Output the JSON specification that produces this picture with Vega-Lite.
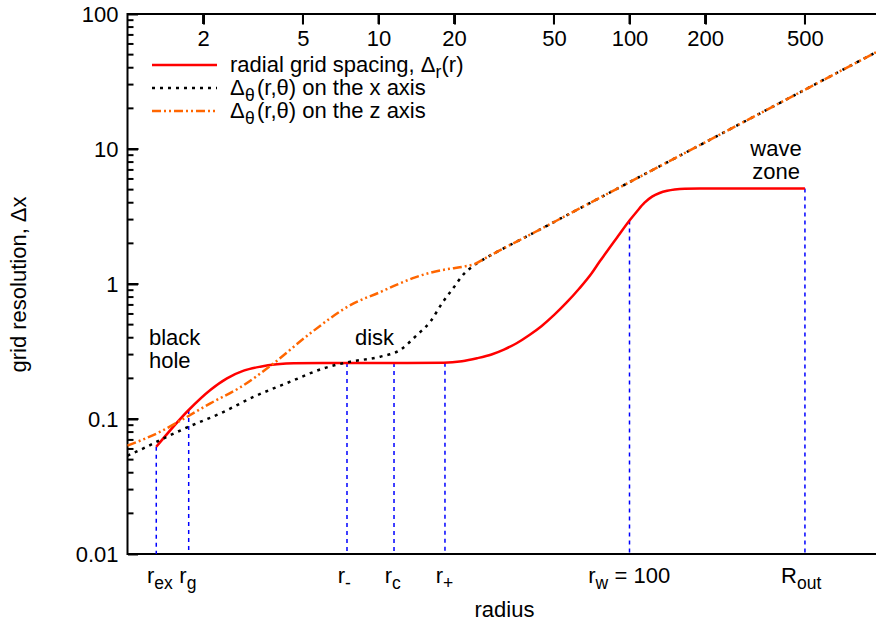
{
  "$schema": "https://vega.github.io/schema/vega-lite/v6.json",
  "width": 753,
  "height": 540,
  "autosize": {"type": "none"},
  "padding": {"left": 127.5, "top": 14, "right": 0, "bottom": 72},
  "background": "white",
  "config": {
    "view": {"stroke": "#000000", "strokeWidth": 2},
    "font": "Liberation Sans",
    "axis": {
      "labelFont": "Liberation Sans", "labelFontSize": 22, "labelColor": "#000000",
      "titleFont": "Liberation Sans", "titleFontSize": 22, "titleFontWeight": "normal", "titleColor": "#000000",
      "domain": false, "grid": false, "tickColor": "#000000", "tickWidth": 2
    }
  },
  "datasets": {
    "lines": [
      {"series": "radial", "part": "curve", "r": 1.302, "v": 0.0623},
      {"series": "radial", "part": "curve", "r": 1.753, "v": 0.1166},
      {"series": "radial", "part": "curve", "r": 2.138, "v": 0.164},
      {"series": "radial", "part": "curve", "r": 2.491, "v": 0.2},
      {"series": "radial", "part": "curve", "r": 2.904, "v": 0.228},
      {"series": "radial", "part": "curve", "r": 3.381, "v": 0.244},
      {"series": "radial", "part": "curve", "r": 3.94, "v": 0.254},
      {"series": "radial", "part": "curve", "r": 4.592, "v": 0.259},
      {"series": "radial", "part": "curve", "r": 6.0, "v": 0.26},
      {"series": "radial", "part": "curve", "r": 9.0, "v": 0.26},
      {"series": "radial", "part": "curve", "r": 13.0, "v": 0.26},
      {"series": "radial", "part": "curve", "r": 18.2, "v": 0.261},
      {"series": "radial", "part": "curve", "r": 21.5, "v": 0.268},
      {"series": "radial", "part": "curve", "r": 24.7, "v": 0.282},
      {"series": "radial", "part": "curve", "r": 28.2, "v": 0.3005},
      {"series": "radial", "part": "curve", "r": 31.6, "v": 0.3266},
      {"series": "radial", "part": "curve", "r": 35.5, "v": 0.364},
      {"series": "radial", "part": "curve", "r": 39.8, "v": 0.417},
      {"series": "radial", "part": "curve", "r": 44.7, "v": 0.489},
      {"series": "radial", "part": "curve", "r": 50.1, "v": 0.59},
      {"series": "radial", "part": "curve", "r": 56.2, "v": 0.73},
      {"series": "radial", "part": "curve", "r": 63.1, "v": 0.926},
      {"series": "radial", "part": "curve", "r": 70.8, "v": 1.206},
      {"series": "radial", "part": "curve", "r": 76.3, "v": 1.48},
      {"series": "radial", "part": "curve", "r": 79.4, "v": 1.64},
      {"series": "radial", "part": "curve", "r": 89.1, "v": 2.2},
      {"series": "radial", "part": "curve", "r": 100, "v": 2.95},
      {"series": "radial", "part": "curve", "r": 107.2, "v": 3.46},
      {"series": "radial", "part": "curve", "r": 114.8, "v": 4.0},
      {"series": "radial", "part": "curve", "r": 123, "v": 4.44},
      {"series": "radial", "part": "curve", "r": 131.8, "v": 4.72},
      {"series": "radial", "part": "curve", "r": 141.3, "v": 4.9},
      {"series": "radial", "part": "curve", "r": 151.4, "v": 5.01},
      {"series": "radial", "part": "curve", "r": 166, "v": 5.08},
      {"series": "radial", "part": "curve", "r": 190.5, "v": 5.1},
      {"series": "radial", "part": "curve", "r": 500, "v": 5.1},
      {"series": "radial", "part": "key", "r": 1.252, "v": 41.9},
      {"series": "radial", "part": "key", "r": 2.273, "v": 41.9},

      {"series": "xaxis", "part": "curve", "r": 1.0, "v": 0.0535},
      {"series": "xaxis", "part": "curve", "r": 1.196, "v": 0.0624},
      {"series": "xaxis", "part": "curve", "r": 1.394, "v": 0.072},
      {"series": "xaxis", "part": "curve", "r": 1.779, "v": 0.0887},
      {"series": "xaxis", "part": "curve", "r": 2.343, "v": 0.11},
      {"series": "xaxis", "part": "curve", "r": 3.183, "v": 0.146},
      {"series": "xaxis", "part": "curve", "r": 4.452, "v": 0.189},
      {"series": "xaxis", "part": "curve", "r": 6.05, "v": 0.2375},
      {"series": "xaxis", "part": "curve", "r": 7.72, "v": 0.2656},
      {"series": "xaxis", "part": "curve", "r": 10.17, "v": 0.2895},
      {"series": "xaxis", "part": "curve", "r": 12.21, "v": 0.325},
      {"series": "xaxis", "part": "curve", "r": 14.23, "v": 0.419},
      {"series": "xaxis", "part": "curve", "r": 16.09, "v": 0.526},
      {"series": "xaxis", "part": "curve", "r": 17.9, "v": 0.719},
      {"series": "xaxis", "part": "curve", "r": 20, "v": 0.95},
      {"series": "xaxis", "part": "curve", "r": 22, "v": 1.2},
      {"series": "xaxis", "part": "curve", "r": 24, "v": 1.37},
      {"series": "xaxis", "part": "curve", "r": 27, "v": 1.574},
      {"series": "xaxis", "part": "curve", "r": 30, "v": 1.75},
      {"series": "xaxis", "part": "curve", "r": 40, "v": 2.31},
      {"series": "xaxis", "part": "curve", "r": 63.5, "v": 3.64},
      {"series": "xaxis", "part": "curve", "r": 100, "v": 5.68},
      {"series": "xaxis", "part": "curve", "r": 200, "v": 11.2},
      {"series": "xaxis", "part": "curve", "r": 500, "v": 27.5},
      {"series": "xaxis", "part": "curve", "r": 1000, "v": 54.2},
      {"series": "xaxis", "part": "key", "r": 1.252, "v": 28.3},
      {"series": "xaxis", "part": "key", "r": 2.273, "v": 28.3},

      {"series": "zaxis", "part": "curve", "r": 1.0, "v": 0.0635},
      {"series": "zaxis", "part": "curve", "r": 1.351, "v": 0.0805},
      {"series": "zaxis", "part": "curve", "r": 1.624, "v": 0.0972},
      {"series": "zaxis", "part": "curve", "r": 2.138, "v": 0.1306},
      {"series": "zaxis", "part": "curve", "r": 2.815, "v": 0.1718},
      {"series": "zaxis", "part": "curve", "r": 3.824, "v": 0.2586},
      {"series": "zaxis", "part": "curve", "r": 5.35, "v": 0.4315},
      {"series": "zaxis", "part": "curve", "r": 7.96, "v": 0.719},
      {"series": "zaxis", "part": "curve", "r": 10, "v": 0.86},
      {"series": "zaxis", "part": "curve", "r": 12, "v": 1.0},
      {"series": "zaxis", "part": "curve", "r": 14, "v": 1.12},
      {"series": "zaxis", "part": "curve", "r": 16, "v": 1.21},
      {"series": "zaxis", "part": "curve", "r": 18, "v": 1.27},
      {"series": "zaxis", "part": "curve", "r": 20, "v": 1.31},
      {"series": "zaxis", "part": "curve", "r": 22, "v": 1.35},
      {"series": "zaxis", "part": "curve", "r": 24, "v": 1.4},
      {"series": "zaxis", "part": "curve", "r": 27, "v": 1.574},
      {"series": "zaxis", "part": "curve", "r": 30, "v": 1.75},
      {"series": "zaxis", "part": "curve", "r": 40, "v": 2.31},
      {"series": "zaxis", "part": "curve", "r": 63.5, "v": 3.64},
      {"series": "zaxis", "part": "curve", "r": 100, "v": 5.68},
      {"series": "zaxis", "part": "curve", "r": 200, "v": 11.2},
      {"series": "zaxis", "part": "curve", "r": 500, "v": 27.5},
      {"series": "zaxis", "part": "curve", "r": 1000, "v": 54.2},
      {"series": "zaxis", "part": "key", "r": 1.252, "v": 19.1},
      {"series": "zaxis", "part": "key", "r": 2.273, "v": 19.1}
    ],
    "vlines": [
      {"name": "r_ex", "r": 1.302, "v": 0.0623},
      {"name": "r_g", "r": 1.753, "v": 0.1166},
      {"name": "r_-", "r": 7.49, "v": 0.26},
      {"name": "r_c", "r": 11.53, "v": 0.26},
      {"name": "r_+", "r": 18.4, "v": 0.261},
      {"name": "r_w", "r": 100, "v": 2.95},
      {"name": "R_out", "r": 500, "v": 5.1}
    ],
    "yticks": [
      {"kind": "major", "r": 1, "v": 0.01}, {"kind": "major", "r": 1, "v": 0.1}, {"kind": "major", "r": 1, "v": 1},
      {"kind": "major", "r": 1, "v": 10}, {"kind": "major", "r": 1, "v": 100},
      {"kind": "minor", "r": 1, "v": 0.02}, {"kind": "minor", "r": 1, "v": 0.03}, {"kind": "minor", "r": 1, "v": 0.04},
      {"kind": "minor", "r": 1, "v": 0.05}, {"kind": "minor", "r": 1, "v": 0.06}, {"kind": "minor", "r": 1, "v": 0.07},
      {"kind": "minor", "r": 1, "v": 0.08}, {"kind": "minor", "r": 1, "v": 0.09},
      {"kind": "minor", "r": 1, "v": 0.2}, {"kind": "minor", "r": 1, "v": 0.3}, {"kind": "minor", "r": 1, "v": 0.4},
      {"kind": "minor", "r": 1, "v": 0.5}, {"kind": "minor", "r": 1, "v": 0.6}, {"kind": "minor", "r": 1, "v": 0.7},
      {"kind": "minor", "r": 1, "v": 0.8}, {"kind": "minor", "r": 1, "v": 0.9},
      {"kind": "minor", "r": 1, "v": 2}, {"kind": "minor", "r": 1, "v": 3}, {"kind": "minor", "r": 1, "v": 4},
      {"kind": "minor", "r": 1, "v": 5}, {"kind": "minor", "r": 1, "v": 6}, {"kind": "minor", "r": 1, "v": 7},
      {"kind": "minor", "r": 1, "v": 8}, {"kind": "minor", "r": 1, "v": 9},
      {"kind": "minor", "r": 1, "v": 20}, {"kind": "minor", "r": 1, "v": 30}, {"kind": "minor", "r": 1, "v": 40},
      {"kind": "minor", "r": 1, "v": 50}, {"kind": "minor", "r": 1, "v": 60}, {"kind": "minor", "r": 1, "v": 70},
      {"kind": "minor", "r": 1, "v": 80}, {"kind": "minor", "r": 1, "v": 90}
    ],
    "xticks": [
      {"r": 2, "v": 100}, {"r": 5, "v": 100}, {"r": 10, "v": 100}, {"r": 20, "v": 100},
      {"r": 50, "v": 100}, {"r": 100, "v": 100}, {"r": 200, "v": 100}, {"r": 500, "v": 100}
    ],
    "notes": [
      {"r": 1.218, "v": 0.3533, "label": "black\nhole", "align": "left"},
      {"r": 8.06, "v": 0.3533, "label": "disk", "align": "left"},
      {"r": 383.5, "v": 8.8, "label": "wave\nzone", "align": "center"}
    ],
    "keytext": [
      {"piece": "main", "r": 2.561, "v": 41.9, "label": "radial grid spacing, Δ"},
      {"piece": "main", "r": 2.561, "v": 28.3, "label": "Δ"},
      {"piece": "main", "r": 2.561, "v": 19.1, "label": "Δ"},
      {"piece": "sub1", "r": 2.561, "v": 41.9, "label": "r"},
      {"piece": "tail1", "r": 2.561, "v": 41.9, "label": "(r)"},
      {"piece": "sub2", "r": 2.561, "v": 28.3, "label": "θ"},
      {"piece": "sub2", "r": 2.561, "v": 19.1, "label": "θ"},
      {"piece": "tail2", "r": 2.561, "v": 28.3, "label": "(r,θ) on the x axis"},
      {"piece": "tail2", "r": 2.561, "v": 19.1, "label": "(r,θ) on the z axis"}
    ],
    "blabels": [
      {"grp": "A", "piece": "main", "r": 1.302, "v": 0.01, "label": "r"},
      {"grp": "A", "piece": "sub", "r": 1.302, "v": 0.01, "label": "ex"},
      {"grp": "A", "piece": "main", "r": 1.753, "v": 0.01, "label": "r"},
      {"grp": "A", "piece": "sub", "r": 1.753, "v": 0.01, "label": "g"},
      {"grp": "A", "piece": "main", "r": 7.49, "v": 0.01, "label": "r"},
      {"grp": "A", "piece": "sub", "r": 7.49, "v": 0.01, "label": "-"},
      {"grp": "A", "piece": "main", "r": 11.53, "v": 0.01, "label": "r"},
      {"grp": "A", "piece": "sub", "r": 11.53, "v": 0.01, "label": "c"},
      {"grp": "A", "piece": "main", "r": 18.4, "v": 0.01, "label": "r"},
      {"grp": "A", "piece": "sub", "r": 18.4, "v": 0.01, "label": "+"},
      {"grp": "W", "piece": "main", "r": 100, "v": 0.01, "label": "r"},
      {"grp": "W", "piece": "sub", "r": 100, "v": 0.01, "label": "w"},
      {"grp": "W", "piece": "tail", "r": 100, "v": 0.01, "label": "= 100"},
      {"grp": "R", "piece": "main", "r": 500, "v": 0.01, "label": "R"},
      {"grp": "R", "piece": "sub", "r": 500, "v": 0.01, "label": "out"}
    ]
  },
  "encoding": {
    "x": {"field": "r", "type": "quantitative", "scale": {"type": "log", "domain": [1, 1000], "nice": false}, "axis": null},
    "y": {"field": "v", "type": "quantitative", "scale": {"type": "log", "domain": [0.01, 100], "nice": false}, "axis": null}
  },
  "resolve": {"axis": {"x": "independent", "y": "independent"}},
  "layer": [
    {
      "data": {"name": "vlines"},
      "mark": {"type": "rule", "color": "#0000ff", "strokeWidth": 1.5, "strokeDash": [4, 4]},
      "encoding": {
        "x": {"field": "r", "type": "quantitative", "scale": {"type": "log", "domain": [1, 1000], "nice": false},
              "axis": {"orient": "bottom", "title": "radius", "labels": false, "ticks": false, "domain": false, "titlePadding": 45}},
        "y2": {"datum": 0.01}
      }
    },
    {
      "data": {"name": "yticks"},
      "transform": [{"filter": "datum.kind == 'major'"}],
      "mark": {"type": "tick", "orient": "horizontal", "size": 11, "thickness": 2, "xOffset": 5.5, "color": "#000000", "opacity": 1}
    },
    {
      "data": {"name": "yticks"},
      "transform": [{"filter": "datum.kind == 'minor'"}],
      "mark": {"type": "tick", "orient": "horizontal", "size": 6, "thickness": 2, "xOffset": 3, "color": "#000000", "opacity": 1}
    },
    {
      "data": {"name": "xticks"},
      "mark": {"type": "tick", "orient": "vertical", "size": 10, "thickness": 2, "yOffset": 5, "color": "#000000", "opacity": 1}
    },
    {
      "data": {"name": "lines"},
      "transform": [{"filter": "datum.series == 'radial'"}],
      "mark": {"type": "line", "color": "#ff0000", "strokeWidth": 2.5, "interpolate": "monotone"},
      "encoding": {
        "x": {"field": "r", "type": "quantitative", "scale": {"type": "log", "domain": [1, 1000], "nice": false},
              "axis": {"orient": "top", "values": [2, 5, 10, 20, 50, 100, 200, 500], "title": null, "format": "~g",
                       "tickSize": -10, "labelPadding": -21, "labelBaseline": "alphabetic",
                       "labelFlush": false, "labelOverlap": false, "labelBound": false}},
        "y": {"field": "v", "type": "quantitative", "scale": {"type": "log", "domain": [0.01, 100], "nice": false},
              "axis": {"orient": "left", "title": "grid resolution, Δx", "titlePadding": 45, "format": "~g",
                       "values": [0.01, 0.1, 1, 10, 100],
                       "tickSize": -10, "labelPadding": 19.5, "labelBaseline": "middle",
                       "labelFlush": false, "labelOverlap": false, "labelBound": false}},
        "detail": {"field": "part"}
      }
    },
    {
      "data": {"name": "lines"},
      "transform": [{"filter": "datum.series == 'xaxis'"}],
      "mark": {"type": "line", "color": "#000000", "strokeWidth": 2.5, "strokeDash": [3, 5], "interpolate": "monotone"},
      "encoding": {"detail": {"field": "part"}}
    },
    {
      "data": {"name": "lines"},
      "transform": [{"filter": "datum.series == 'zaxis'"}],
      "mark": {"type": "line", "color": "#ff6600", "strokeWidth": 2.5, "strokeDash": [9, 3, 2, 3, 2, 3], "interpolate": "monotone"},
      "encoding": {"detail": {"field": "part"}}
    },
    {
      "data": {"name": "notes"},
      "transform": [{"filter": "datum.align == 'left'"}],
      "mark": {"type": "text", "align": "left", "baseline": "alphabetic", "lineBreak": "\n", "lineHeight": 23, "fontSize": 22, "color": "#000000", "font": "Liberation Sans"},
      "encoding": {"text": {"field": "label"}}
    },
    {
      "data": {"name": "notes"},
      "transform": [{"filter": "datum.align == 'center'"}],
      "mark": {"type": "text", "align": "center", "baseline": "alphabetic", "lineBreak": "\n", "lineHeight": 23, "fontSize": 22, "color": "#000000", "font": "Liberation Sans"},
      "encoding": {"text": {"field": "label"}}
    },
    {
      "data": {"name": "keytext"},
      "transform": [{"filter": "datum.piece == 'main'"}],
      "mark": {"type": "text", "align": "left", "baseline": "alphabetic", "dy": 7, "fontSize": 22, "color": "#000000", "font": "Liberation Sans"},
      "encoding": {"text": {"field": "label"}}
    },
    {
      "data": {"name": "keytext"},
      "transform": [{"filter": "datum.piece == 'sub1'"}],
      "mark": {"type": "text", "align": "left", "baseline": "alphabetic", "dx": 205.5, "dy": 13, "fontSize": 17.5, "color": "#000000", "font": "Liberation Sans"},
      "encoding": {"text": {"field": "label"}}
    },
    {
      "data": {"name": "keytext"},
      "transform": [{"filter": "datum.piece == 'tail1'"}],
      "mark": {"type": "text", "align": "left", "baseline": "alphabetic", "dx": 211.5, "dy": 7, "fontSize": 22, "color": "#000000", "font": "Liberation Sans"},
      "encoding": {"text": {"field": "label"}}
    },
    {
      "data": {"name": "keytext"},
      "transform": [{"filter": "datum.piece == 'sub2'"}],
      "mark": {"type": "text", "align": "left", "baseline": "alphabetic", "dx": 15, "dy": 13, "fontSize": 17.5, "color": "#000000", "font": "Liberation Sans"},
      "encoding": {"text": {"field": "label"}}
    },
    {
      "data": {"name": "keytext"},
      "transform": [{"filter": "datum.piece == 'tail2'"}],
      "mark": {"type": "text", "align": "left", "baseline": "alphabetic", "dx": 27, "dy": 7, "fontSize": 22, "color": "#000000", "font": "Liberation Sans"},
      "encoding": {"text": {"field": "label"}}
    },
    {
      "data": {"name": "blabels"},
      "transform": [{"filter": "datum.grp == 'A' && datum.piece == 'main'"}],
      "mark": {"type": "text", "align": "right", "baseline": "alphabetic", "dx": -2, "dy": 29, "fontSize": 22, "color": "#000000", "font": "Liberation Sans"},
      "encoding": {"text": {"field": "label"}}
    },
    {
      "data": {"name": "blabels"},
      "transform": [{"filter": "datum.grp == 'A' && datum.piece == 'sub'"}],
      "mark": {"type": "text", "align": "left", "baseline": "alphabetic", "dx": -2, "dy": 35, "fontSize": 17.5, "color": "#000000", "font": "Liberation Sans"},
      "encoding": {"text": {"field": "label"}}
    },
    {
      "data": {"name": "blabels"},
      "transform": [{"filter": "datum.grp == 'W' && datum.piece == 'main'"}],
      "mark": {"type": "text", "align": "right", "baseline": "alphabetic", "dx": -34, "dy": 29, "fontSize": 22, "color": "#000000", "font": "Liberation Sans"},
      "encoding": {"text": {"field": "label"}}
    },
    {
      "data": {"name": "blabels"},
      "transform": [{"filter": "datum.grp == 'W' && datum.piece == 'sub'"}],
      "mark": {"type": "text", "align": "left", "baseline": "alphabetic", "dx": -34, "dy": 35, "fontSize": 17.5, "color": "#000000", "font": "Liberation Sans"},
      "encoding": {"text": {"field": "label"}}
    },
    {
      "data": {"name": "blabels"},
      "transform": [{"filter": "datum.grp == 'W' && datum.piece == 'tail'"}],
      "mark": {"type": "text", "align": "left", "baseline": "alphabetic", "dx": -15, "dy": 29, "fontSize": 22, "color": "#000000", "font": "Liberation Sans"},
      "encoding": {"text": {"field": "label"}}
    },
    {
      "data": {"name": "blabels"},
      "transform": [{"filter": "datum.grp == 'R' && datum.piece == 'main'"}],
      "mark": {"type": "text", "align": "right", "baseline": "alphabetic", "dx": -8, "dy": 29, "fontSize": 22, "color": "#000000", "font": "Liberation Sans"},
      "encoding": {"text": {"field": "label"}}
    },
    {
      "data": {"name": "blabels"},
      "transform": [{"filter": "datum.grp == 'R' && datum.piece == 'sub'"}],
      "mark": {"type": "text", "align": "left", "baseline": "alphabetic", "dx": -8, "dy": 35, "fontSize": 17.5, "color": "#000000", "font": "Liberation Sans"},
      "encoding": {"text": {"field": "label"}}
    }
  ]
}
